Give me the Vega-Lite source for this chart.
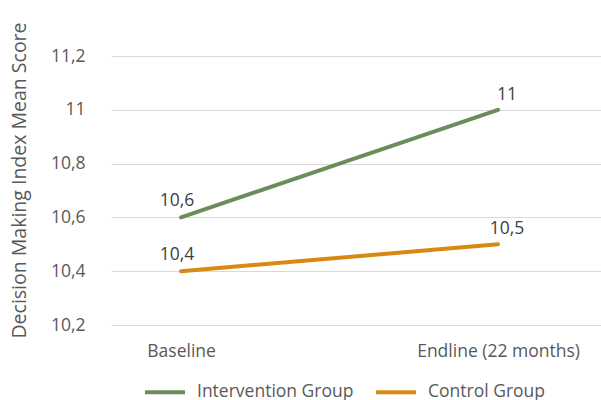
{
  "$schema": "https://vega.github.io/schema/vega-lite/v6.json",
  "width": 490,
  "height": 269,
  "autosize": "none",
  "padding": {"left": 111, "top": 56, "right": 0, "bottom": 75},
  "background": "white",
  "config": {
    "view": {"stroke": null},
    "font": "Open Sans",
    "locale": {"number": {"decimal": ",", "thousands": ".", "grouping": [3], "currency": ["", " €"]}}
  },
  "data": {
    "values": [
      {"period": "Baseline", "group": "Intervention Group", "score": 10.6},
      {"period": "Endline (22 months)", "group": "Intervention Group", "score": 11.0},
      {"period": "Baseline", "group": "Control Group", "score": 10.4},
      {"period": "Endline (22 months)", "group": "Control Group", "score": 10.5}
    ]
  },
  "encoding": {
    "x": {
      "field": "period", "type": "ordinal", "sort": null,
      "scale": {"type": "point", "padding": 0.273, "align": 0.405},
      "axis": {
        "title": null, "labelAngle": 0, "domain": false, "ticks": false,
        "labelFontSize": 17.5, "labelColor": "#595959", "labelPadding": 17
      }
    },
    "y": {
      "field": "score", "type": "quantitative",
      "scale": {"domain": [10.2, 11.2], "nice": false, "zero": false},
      "axis": {
        "title": "Decision Making Index Mean Score",
        "titleFontSize": 19.5, "titleFontWeight": "normal", "titleColor": "#595959",
        "titleX": -92, "titleY": 124, "titleBaseline": "middle",
        "values": [10.2, 10.4, 10.6, 10.8, 11.0, 11.2],
        "format": ".1~f",
        "labelFontSize": 17.5, "labelColor": "#595959", "labelPadding": 26,
        "domain": false, "ticks": false,
        "gridColor": "#d9d9d9", "gridWidth": 1.2
      }
    }
  },
  "layer": [
    {
      "mark": {"type": "line", "strokeWidth": 4, "strokeCap": "round"},
      "encoding": {
        "color": {
          "field": "group", "type": "nominal",
          "scale": {"domain": ["Intervention Group", "Control Group"], "range": ["#6b8e59", "#d78a12"]},
          "legend": {
            "title": null, "orient": "none", "direction": "horizontal",
            "legendX": 32, "legendY": 314,
            "symbolType": "stroke", "symbolSize": 1600, "symbolStrokeWidth": 4,
            "labelFontSize": 17.5, "labelColor": "#595959", "labelOffset": 10,
            "columnPadding": 14
          }
        }
      }
    },
    {
      "transform": [{"filter": "datum.period == 'Baseline'"}],
      "mark": {"type": "text", "fontSize": 17.5, "color": "#404040", "dy": -16, "dx": -4, "baseline": "middle"},
      "encoding": {"text": {"field": "score", "type": "quantitative", "format": ".1~f"}, "detail": {"field": "group"}}
    },
    {
      "transform": [{"filter": "datum.period != 'Baseline'"}],
      "mark": {"type": "text", "fontSize": 17.5, "color": "#404040", "dy": -15, "dx": 9, "baseline": "middle"},
      "encoding": {"text": {"field": "score", "type": "quantitative", "format": ".1~f"}, "detail": {"field": "group"}}
    }
  ]
}
